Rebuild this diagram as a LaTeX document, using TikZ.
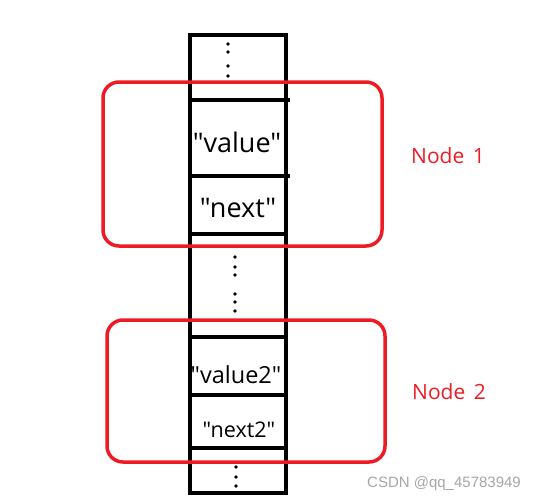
\documentclass[tikz,border=0pt]{standalone}
\usepackage{fontspec}
\setmainfont{Open Sans}[Ligatures=TeXOff]
\newfontfamily\wmfont{Liberation Sans}
\usepackage{xcolor}
\definecolor{boxred}{HTML}{ED1C24}

\begin{document}
\begin{tikzpicture}[x=1pt, y=-1pt,
    cell/.style={line width=4pt, black},
    dot/.style={black},
    group/.style={line width=3.5pt, boxred, rounded corners=16pt},
    field/.style={inner sep=0pt, font=\fontsize{27}{30}\selectfont},
    field2/.style={inner sep=0pt, font=\fontsize{23.5}{28}\selectfont},
    label/.style={inner sep=0pt, boxred, font=\fontsize{21}{24}\selectfont}]
    \useasboundingbox (0,0) rectangle (537,503);

    % Memory column
    \draw[cell] (190,35) rectangle (286,493);
    \draw[cell] (190,100) -- (290,100);
    \draw[cell] (190,176) -- (290,176);
    \draw[cell] (190,234) -- (286,234);
    \draw[cell] (188,337) -- (286,337);
    \draw[cell] (188,395) -- (286,395);
    \draw[cell] (190,448) -- (286,448);

    % Dots between cells
    \foreach \y in {44,52,66,76} \fill[dot] (228,\y) circle (1.8pt);
    \foreach \y in {257,267,275,294,302,311} \fill[dot] (235,\y) circle (1.8pt);
    \foreach \y in {467,477,486} \fill[dot] (236,\y) circle (1.8pt);

    % Field texts
    \node[field] (value) at (237,142) {"value"};
    \node[field] (next) at (238,208) {"next"};
    \node[field2] (value2) at (236,375) {"value2"};
    \node[field2, font=\fontsize{21.5}{26}\selectfont] (next2) at (239,430) {"next2"};

    % Node groups
    \draw[group] (103,82) rectangle (382,246);
    \draw[group] (107,320) rectangle (385,462);
    \node[label] (node1) at (448,156) {Node\hspace{0.4em}1};
    \node[label] (node2) at (449,392) {Node\hspace{0.4em}2};

    % Watermark
    \node[inner sep=0pt, gray!70, font=\wmfont\fontsize{15}{17}\selectfont] (mark) at (444,484) {CSDN @qq\_45783949};
\end{tikzpicture}
\end{document}
